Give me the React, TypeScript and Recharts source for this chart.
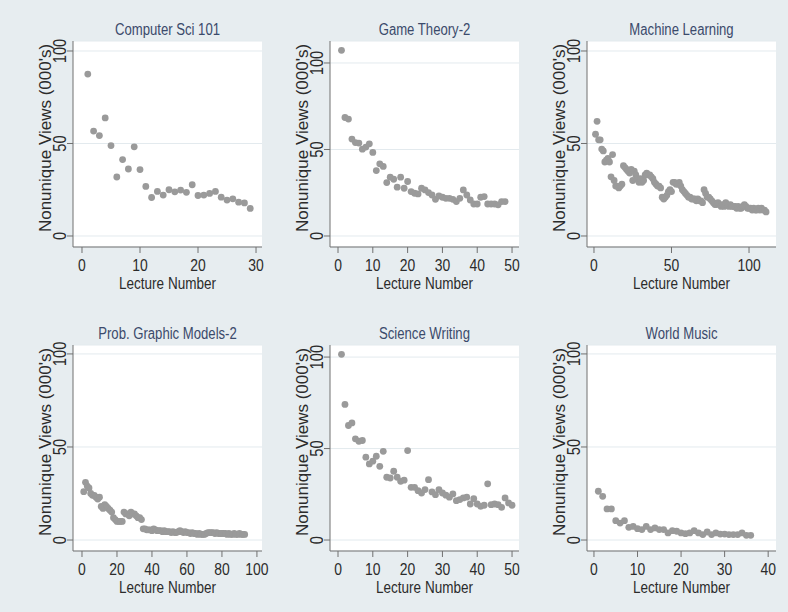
import { ScatterChart, Scatter, XAxis, YAxis, CartesianGrid } from 'recharts'

// nonunique views (000's) per lecture, lecture 1..n
const cs101Views = [
  87.5, 56.7, 54.3, 63.8, 48.9, 31.9, 41.3, 36.2, 48.2, 35.9,
  26.8, 20.8, 24.1, 22.1, 25.0, 23.9, 24.8, 23.6, 27.7, 21.9,
  22.1, 23.0, 24.1, 21.0, 19.4, 20.1, 18.3, 17.9, 14.9,
]

const gameTheoryViews = [
  107.3, 68.5, 67.6, 56.0, 54.0, 53.7, 50.2, 51.4, 53.3, 48.3,
  37.8, 41.7, 40.2, 30.9, 34.0, 32.8, 28.2, 34.0, 27.6, 31.5,
  25.7, 24.7, 24.3, 27.6, 26.6, 25.1, 23.7, 21.2, 23.2, 22.4,
  21.8, 21.8, 21.2, 19.9, 21.8, 26.6, 23.7, 20.8, 18.5, 18.5,
  22.4, 22.8, 18.5, 18.5, 18.5, 18.0, 19.9, 19.9,
]

const machineLearningViews = [
  55, 62, 52, 52, 47, 46, 40, 41, 42, 40,
  32, 44, 30, 27, 27, 26, 27, 28, 38, 37,
  36, 35, 34, 36, 30, 35, 33, 31, 29, 31,
  29, 30, 33, 34, 33, 33, 32, 31, 29, 28,
  27, 27, 26, 21, 20, 21, 22, 24, 25, 24,
  29, 29, 28, 28, 29, 27, 25, 24, 23, 22,
  21, 21, 20, 20, 20, 19, 20, 19, 19, 18,
  25, 23, 21, 21, 20, 19, 18, 17, 17, 18,
  17, 16, 17, 16, 18, 17, 16, 17, 16, 16,
  16, 15, 16, 15, 15, 16, 17, 16, 15, 15,
  15, 14, 15, 14, 14, 15, 14, 15, 14, 14,
  13,
]

const pgmViews = [
  26, 31, 29, 28, 25, 24, 24, 23, 22, 23,
  18, 17, 19, 18, 17, 16, 15, 12, 11, 10,
  10, 10, 10, 15, 14, 14, 13, 15, 14, 14,
  13, 12, 12, 11, 6, 6, 5.5, 5.5, 5.5, 5,
  6, 5.5, 5, 5, 5, 4.5, 5, 4.5, 4.5, 4.5,
  4, 4.5, 4, 4, 4.5, 5, 4.5, 4, 4.5, 4,
  4, 3.5, 4, 3.5, 3.5, 3, 3.5, 3, 3, 3,
  3.5, 4, 4, 4, 4, 3.5, 4, 3.5, 3.5, 3.5,
  3.5, 3.5, 3, 3.5, 3, 3, 3.5, 3, 3, 3.5,
  3, 3, 3,
]

const scienceWritingViews = [
  101.5, 74.1, 62.6, 64.0, 55.3, 54.0, 54.4, 45.3, 41.6, 43.1,
  45.8, 40.3, 48.5, 34.3, 33.9, 37.6, 34.3, 32.1, 32.7, 48.9,
  28.8, 28.8, 27.0, 25.7, 27.6, 33.0, 26.3, 24.8, 27.6, 25.7,
  24.5, 23.4, 25.2, 21.5, 22.1, 23.0, 23.4, 19.7, 22.6, 19.7,
  18.4, 19.0, 30.7, 19.3, 19.7, 19.3, 17.9, 23.0, 20.3, 19.0,
]

const worldMusicViews = [
  26.2, 23.5, 16.7, 16.7, 10.4, 9.1, 10.4, 6.8, 7.3, 6.1,
  5.6, 7.3, 5.6, 6.5, 5.6, 5.6, 3.8, 5.0, 4.7, 3.8,
  3.4, 3.8, 5.0, 3.8, 2.9, 4.3, 2.9, 3.8, 3.2, 3.2,
  2.9, 2.9, 2.9, 3.8, 2.5, 2.5,
]

const yTicks = [0, 50, 100]
const cs101Ticks = [0, 10, 20, 30]
const fiftyTicks = [0, 10, 20, 30, 40, 50]
const mlTicks = [0, 50, 100]
const pgmTicks = [0, 20, 40, 60, 80, 100]
const worldMusicTicks = [0, 10, 20, 30, 40]

const FONT = "'Liberation Sans', Arial, Helvetica, sans-serif"
const SQUEEZE = 0.82
const INK = '#2b2b2b'
const AXIS = '#707070'

const ML = 80
const MT = 40
const MR = 10
const XH = 60
const PW = 189
const PH = 206

function XTick(props: any) {
  const { x, y, payload } = props
  return (
    <text
      transform={`translate(${x} ${y}) scale(${SQUEEZE} 1)`}
      dy="0.71em"
      textAnchor="middle"
      fontFamily={FONT}
      fontSize={17}
      fill={INK}
    >
      {payload.value}
    </text>
  )
}

function YTick(props: any) {
  const { x, y, payload } = props
  return (
    <text
      transform={`translate(${x} ${y}) rotate(-90) scale(${SQUEEZE} 1)`}
      textAnchor="middle"
      fontFamily={FONT}
      fontSize={18}
      fill={INK}
    >
      {payload.value}
    </text>
  )
}

function Dot(props: any) {
  const { cx, cy } = props
  if (cx == null || cy == null) return null
  return <circle cx={cx} cy={cy} r={3.4} fill="#9a9a9a" />
}

interface PanelProps {
  title: string
  views: number[]
  xTicks: number[]
  xDomain: [number, number]
  yDomain: [number, number]
  left: number
  top: number
}

function Panel({ title, views, xTicks, xDomain, yDomain, left, top }: PanelProps) {
  const data = views.map((v, i) => ({ lecture: i + 1, views: v }))
  return (
    <>
      <div
        style={{
          position: 'absolute',
          left,
          top: top - 19.5,
          width: PW,
          textAlign: 'center',
          fontFamily: FONT,
          fontSize: 16,
          lineHeight: '16px',
          color: '#3b4a6b',
          whiteSpace: 'nowrap',
          transform: `scaleX(${SQUEEZE})`,
          transformOrigin: 'center',
        }}
      >
        {title}
      </div>
      <div style={{ position: 'absolute', left: left - ML, top: top - MT }}>
        <ScatterChart
          width={PW + ML + MR}
          height={PH + MT + XH}
          margin={{ top: MT, right: MR, bottom: 0, left: 0 }}
        >
          <CartesianGrid vertical={false} stroke="#e3eaee" fill="#ffffff" />
          <XAxis
            type="number"
            dataKey="lecture"
            domain={xDomain}
            ticks={xTicks}
            interval={0}
            allowDataOverflow
            height={XH}
            tickSize={6}
            tickMargin={6}
            stroke={AXIS}
            tick={<XTick />}
            label={{
              content: () => (
                <text
                  transform={`translate(${ML + PW / 2} ${MT + PH + 41.5}) scale(${SQUEEZE} 1)`}
                  textAnchor="middle"
                  fontFamily={FONT}
                  fontSize={16.5}
                  fill={INK}
                >
                  Lecture Number
                </text>
              ),
            }}
          />
          <YAxis
            type="number"
            dataKey="views"
            domain={yDomain}
            ticks={yTicks}
            interval={0}
            allowDataOverflow
            width={ML}
            tickSize={6}
            tickMargin={1}
            stroke={AXIS}
            tick={<YTick />}
            label={{
              content: () => (
                <text
                  transform={`translate(${ML - 22} ${MT + 97}) rotate(-90)`}
                  textAnchor="middle"
                  fontFamily={FONT}
                  fontSize={17}
                  fill={INK}
                >
                  Nonunique Views (000's)
                </text>
              ),
            }}
          />
          <Scatter data={data} dataKey="views" isAnimationActive={false} shape={Dot} />
        </ScatterChart>
      </div>
    </>
  )
}

export default function App() {
  return (
    <div
      style={{
        position: 'absolute',
        left: 0,
        top: 0,
        width: 788,
        height: 612,
        background: '#e7edf0',
        overflow: 'hidden',
      }}
    >
      <Panel title="Computer Sci 101" views={cs101Views} xTicks={cs101Ticks}
        xDomain={[-1.55, 31.03]} yDomain={[-5.95, 105.4]} left={73} top={41} />
      <Panel title="Game Theory-2" views={gameTheoryViews} xTicks={fiftyTicks}
        xDomain={[-2.3, 52.0]} yDomain={[-6.36, 112.7]} left={330} top={41} />
      <Panel title="Machine Learning" views={machineLearningViews} xTicks={mlTicks}
        xDomain={[-4.5, 117.4]} yDomain={[-5.95, 105.4]} left={587} top={41} />
      <Panel title="Prob. Graphic Models-2" views={pgmViews} xTicks={pgmTicks}
        xDomain={[-5.14, 102.9]} yDomain={[-5.9, 104.8]} left={73} top={345} />
      <Panel title="Science Writing" views={scienceWritingViews} xTicks={fiftyTicks}
        xDomain={[-2.3, 52.0]} yDomain={[-6.0, 106.6]} left={330} top={345} />
      <Panel title="World Music" views={worldMusicViews} xTicks={worldMusicTicks}
        xDomain={[-1.6, 41.8]} yDomain={[-5.9, 104.8]} left={587} top={345} />
    </div>
  )
}
